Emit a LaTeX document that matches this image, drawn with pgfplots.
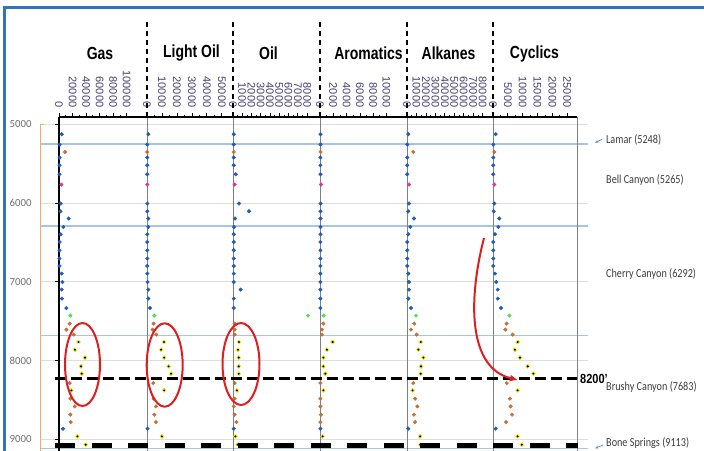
\documentclass[border=0pt]{standalone}
\usepackage{fontspec}
\setmainfont{Liberation Sans}
\newfontfamily\carlito{Carlito}
\usepackage{graphicx}
\usepackage{pgfplots}
\pgfplotsset{compat=1.18}
\usepackage{pgfplotstable}
\usetikzlibrary{arrows.meta}

\definecolor{ptblue}{RGB}{31,90,190}
\definecolor{ptorange}{RGB}{196,112,52}
\definecolor{ptpink}{RGB}{232,48,150}
\definecolor{ptgreen}{RGB}{80,224,80}
\definecolor{frameblue}{RGB}{46,117,190}
\definecolor{fmline}{RGB}{165,196,230}
\definecolor{gridgray}{RGB}{222,222,222}
\definecolor{tickcol}{RGB}{70,62,110}
\definecolor{ylabgray}{RGB}{110,110,110}
\definecolor{labgray}{RGB}{60,60,60}
\definecolor{redline}{RGB}{222,30,30}
\definecolor{orangeline}{RGB}{240,170,110}
\definecolor{panelgray}{RGB}{128,128,128}
\definecolor{arrowblue}{RGB}{91,155,213}

\newcommand\ticklabfont{\fontsize{11bp}{12bp}\selectfont}
\newcommand\ylabfont{\carlito\fontsize{10.8bp}{12bp}\selectfont}
\newcommand\titlefont{\bfseries\fontsize{14bp}{16bp}\selectfont}
\newcommand\formfont{\carlito\fontsize{10.2bp}{12bp}\selectfont}

% depth (ft), colour class, then one column per panel
\pgfplotstableread{
depth cls gas lo oil aro alk cyc
5127 b 4000 870 80 80 1400 900
5258 b 1000 150 80 80 300 100
5352 o 8900 150 80 80 6700 450
5423 b 1000 150 80 60 300 100
5521 b 700 150 80 60 300 100
5635 b 700 150 290 80 300 100
5766 p 3500 200 180 150 2100 450
6007 b 2500 200 650 80 2100 450
6105 b 2100 200 1730 80 1400 230
6197 b 14300 870 220 80 7400 2100
6304 b 6500 870 110 80 3500 1800
6397 b 2500 200 80 80 1400 670
6495 b 1000 200 80 60 300 100
6600 b 700 200 80 60 300 100
6705 b 700 200 80 60 300 100
6799 b 700 200 80 60 300 100
6896 b 4000 200 80 60 1400 670
7003 b 5000 400 80 60 2100 1100
7099 b 4000 870 830 60 2100 1600
7213 b 4400 870 80 60 1400 1600
7333 b 10900 2000 80 60 4200 2700
7429 g 16800 4900 8100 540 9500 5500
7531 o 15800 4400 180 500 7700 4600
7607 o 10900 3700 180 300 4200 4150
7670 o 21700 6200 180 300 10200 6600
7764 k 28700 11400 650 1900 14500 8300
7861 k 23600 9400 540 1050 12000 7400
7962 k 38400 11400 620 500 17300 9100
8073 k 32500 14500 620 500 14800 11700
8166 k 33500 16100 620 800 14500 13600
8285 o 15800 4200 180 60 6700 4600
8378 k 18300 11400 430 500 6000 8300
8483 o 16800 4400 180 60 8500 5700
8581 o 23200 6000 80 60 10900 5950
8686 o 16800 4900 180 150 7400 6400
8780 o 17300 6000 370 60 8500 4400
8864 b 5900 400 80 60 1400 900
8962 k 27200 10000 260 400 13800 8300
9067 k 39400 14700 500 400 14000 9700
}\welldata

\pgfplotsset{
  full/.style={scale only axis, at={(0,0)}, anchor=north west,
    width=704bp, height=451bp, xmin=0, xmax=704,
    ymin=3423.9, ymax=9147.2, y dir=reverse, hide axis, clip=false},
  panel/.style={scale only axis, anchor=north west, height=334bp,
    ymin=4908.6, ymax=9147.2, y dir=reverse, xmin=0, clip=false,
    axis line style={draw=none},
    tick align=outside, major tick length=4bp, minor tick length=2.3bp,
    tick style={black, line width=0.7bp},
    xtick pos=right, xticklabel pos=right,
    minor x tick num=1,
    scaled ticks=false,
    /pgf/number format/fixed,
    /pgf/number format/precision=0,
    /pgf/number format/1000 sep={},
    /pgf/number format/assume math mode=true,
    xticklabel shift=4bp,
    xticklabel style={rotate=-90, anchor=east, font=\ticklabfont, text=tickcol, inner sep=1.5bp},
    ytick=\empty},
  dots/.style={scatter, only marks, scatter src=explicit symbolic, mark size=1.8bp,
    scatter/classes={
      b={mark=*, draw=ptblue, fill=ptblue},
      o={mark=*, draw=ptorange, fill=ptorange},
      p={mark=*, draw=ptpink, fill=ptpink},
      g={mark=*, draw=ptgreen, fill=ptgreen},
      k={mark=*, draw=yellow, fill=black, line width=0.7bp, mark size=1.9bp}}},
}

\begin{document}
\begin{tikzpicture}
% background: grid and formation tops
\begin{axis}[full]
\addplot[gridgray, line width=0.8bp] coordinates {(40,5000) (588,5000)};
\addplot[gridgray, line width=0.8bp] coordinates {(40,6000) (588,6000)};
\addplot[gridgray, line width=0.8bp] coordinates {(40,7000) (588,7000)};
\addplot[gridgray, line width=0.8bp] coordinates {(40,8000) (588,8000)};
\addplot[gridgray, line width=0.8bp] coordinates {(40,9000) (588,9000)};
\addplot[fmline, line width=1.6bp] coordinates {(40,5248) (588,5248)};
\addplot[fmline, line width=1.6bp] coordinates {(40,6292) (588,6292)};
\addplot[fmline, line width=1.6bp] coordinates {(40,7683) (588,7683)};
\addplot[fmline, line width=1.6bp] coordinates {(40,9113) (588,9113)};
\end{axis}

% panel frame lines
\foreach \xx in {147,233,320,407,493,577}
  \draw[panelgray, line width=0.9bp] (\xx bp,-117bp) -- (\xx bp,-451bp);
\draw[black, line width=1.3bp] (59bp,-117bp) -- (59bp,-451bp);
\draw[black, line width=1.5bp] (59bp,-117bp) -- (577bp,-117bp);
\draw[orangeline, line width=1bp] (44bp,-124.5bp) -- (40bp,-124.5bp) -- (40bp,-451bp);

% Gas
\begin{axis}[panel, at={(59bp,-117bp)}, width=88bp, xmax=130000,
  xtick={0,20000,...,100000},
  ytick={5000,6000,7000,8000,9000}, ytick pos=left, yticklabel pos=left,
  yticklabel style={font=\ylabfont, text=ylabgray, xshift=-20bp}]
\addplot[dots] table[x=gas, y=depth, meta=cls] {\welldata};
\end{axis}
% Light Oil
\begin{axis}[panel, at={(147bp,-117bp)}, width=86bp, xmax=57500,
  xtick={0,10000,...,50000}]
\addplot[dots] table[x=lo, y=depth, meta=cls] {\welldata};
\end{axis}
% Oil
\begin{axis}[panel, at={(233bp,-117bp)}, width=87bp, xmax=9400,
  xtick={0,1000,...,8000}]
\addplot[dots] table[x=oil, y=depth, meta=cls] {\welldata};
\end{axis}
% Aromatics
\begin{axis}[panel, at={(320bp,-117bp)}, width=87bp, xmax=13100,
  xtick={0,2000,...,10000}]
\addplot[dots] table[x=aro, y=depth, meta=cls] {\welldata};
\end{axis}
% Alkanes
\begin{axis}[panel, at={(407bp,-117bp)}, width=86bp, xmax=91000,
  xtick={0,10000,...,80000}]
\addplot[dots] table[x=alk, y=depth, meta=cls] {\welldata};
\end{axis}
% Cyclics
\begin{axis}[panel, at={(493bp,-117bp)}, width=84bp, xmax=28300,
  xtick={0,5000,...,25000}]
\addplot[dots] table[x=cyc, y=depth, meta=cls] {\welldata};
\end{axis}

% overlay dashed lines
\begin{axis}[full]
\addplot[black, line width=2.5bp, dash pattern=on 10.5bp off 5.5bp] coordinates {(55,8225) (577,8225)};
\addplot[black, line width=4.5bp, dash pattern=on 20bp off 16.5bp] coordinates {(55,9075) (578,9075)};
\end{axis}

% separators above the plot
\foreach \xx in {147,233,320,407,493}
  \draw[black, line width=1.4bp, dash pattern=on 5bp off 4bp] (\xx bp,-22bp) -- (\xx bp,-117bp);

% ellipses and arrow
\draw[redline, line width=2bp] (82.5bp,-364.5bp) ellipse [x radius=17.5bp, y radius=41.5bp];
\draw[redline, line width=2bp] (164.7bp,-365bp) ellipse [x radius=18bp, y radius=41.7bp];
\draw[redline, line width=2bp] (241bp,-364bp) ellipse [x radius=18.5bp, y radius=41bp];
\draw[redline, line width=2bp, -{Latex[length=8bp,width=7bp]}] (484bp,-238bp) .. controls (468bp,-300bp) and (468bp,-368bp) .. (518bp,-380bp);

% titles
\node[font=\titlefont] at (100bp,-53.5bp) {\scalebox{1}[1.25]{Gas}};
\node[font=\titlefont] at (191.5bp,-53.5bp) {\scalebox{1}[1.25]{Light Oil}};
\node[font=\titlefont] at (268.5bp,-53.5bp) {\scalebox{1}[1.25]{Oil}};
\node[font=\titlefont] at (368.5bp,-53.5bp) {\scalebox{1}[1.25]{Aromatics}};
\node[font=\titlefont] at (448.5bp,-53.5bp) {\scalebox{1}[1.25]{Alkanes}};
\node[font=\titlefont] at (534.5bp,-53.5bp) {\scalebox{1}[1.25]{Cyclics}};

% formation labels
\node[anchor=west, inner sep=0, font=\formfont, text=labgray] at (606bp,-139.5bp) {\scalebox{1}[1.2]{Lamar (5248)}};
\node[anchor=west, inner sep=0, font=\formfont, text=labgray] at (606bp,-180bp) {\scalebox{1}[1.2]{Bell Canyon (5265)}};
\node[anchor=west, inner sep=0, font=\formfont, text=labgray] at (606bp,-274.3bp) {\scalebox{1}[1.2]{Cherry Canyon (6292)}};
\node[anchor=west, inner sep=0, font=\formfont, text=labgray] at (606bp,-387bp) {\scalebox{1}[1.2]{Brushy Canyon (7683)}};
\node[anchor=west, inner sep=0, font=\formfont, text=labgray] at (606bp,-443.3bp) {\scalebox{1}[1.2]{Bone Springs (9113)}};
\node[anchor=west, inner sep=0, font=\bfseries\fontsize{11bp}{13bp}\selectfont] at (580bp,-378.5bp) {\scalebox{1}[1.2]{8200'}};
\draw[arrowblue, line width=0.8bp, -{Stealth[length=3.5bp,width=3bp]}] (602bp,-139.3bp) -- (595bp,-142.8bp);
\draw[arrowblue, line width=0.8bp, -{Stealth[length=3.5bp,width=3bp]}] (603bp,-445bp) -- (595bp,-448.3bp);

% outer frame
\draw[frameblue, line width=3bp] (4.5bp,-451bp) -- (4.5bp,-7.5bp) -- (704bp,-7.5bp);

\pgfresetboundingbox
\path[use as bounding box] (0,0) rectangle (704bp,-451bp);
\end{tikzpicture}
\end{document}
